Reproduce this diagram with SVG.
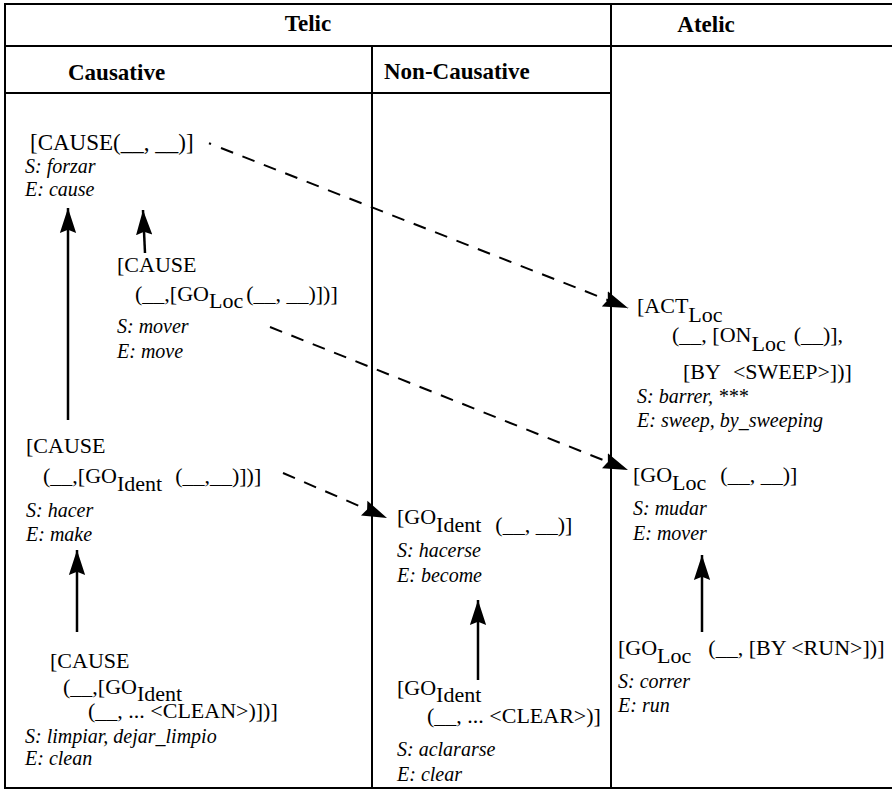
<svg xmlns="http://www.w3.org/2000/svg" width="892" height="790" viewBox="0 0 892 790">
<style>
text{font-family:'Liberation Serif','Times New Roman',Times,serif;fill:#000}
.r{font-size:22px}
.i{font-size:20px;font-style:italic}
.h{font-size:23px;font-weight:bold}
.grid{stroke:#000;stroke-width:2;fill:none}
.solid{stroke:#000;stroke-width:2.5;fill:none;marker-end:url(#ah)}
.dash{stroke:#000;stroke-width:2;fill:none;stroke-dasharray:13 10;marker-end:url(#ah)}
</style>
<defs>
<marker id="ah" markerUnits="userSpaceOnUse" markerWidth="26" markerHeight="18" viewBox="0 0 24 16" refX="23" refY="8" orient="auto">
<path d="M0,0.5 L23,8 L0,15.5 L3,8 Z" fill="#000" stroke="none"/>
</marker>
</defs>
<rect width="892" height="790" fill="#fff"/>
<g id="table" class="grid">
<line x1="5" y1="4" x2="892" y2="4"/>
<line x1="5" y1="3" x2="5" y2="789"/>
<line x1="5" y1="46" x2="892" y2="46"/>
<line x1="5" y1="93" x2="611" y2="93"/>
<line x1="611" y1="3" x2="611" y2="789"/>
<line x1="372" y1="46" x2="372" y2="789"/>
<line x1="5" y1="788" x2="892" y2="788"/>
</g>
<g id="headers">
<text class="h" x="308" y="31" text-anchor="middle">Telic</text>
<text class="h" x="706" y="32" text-anchor="middle">Atelic</text>
<text class="h" x="68" y="80">Causative</text>
<text class="h" x="384" y="79">Non-Causative</text>
</g>
<g id="n-cause">
<text class="r" x="30" y="150" style="font-size:23px">[CAUSE(__, __)]</text>
<text class="i" x="25" y="173">S: forzar</text>
<text class="i" x="25" y="196">E: cause</text>
</g>
<g id="n-move">
<text class="r" x="117" y="272">[CAUSE</text>
<text class="r" x="135" y="301">(__,[GO<tspan dy="7">Loc</tspan><tspan dy="-7" dx="3">(__, __)])]</tspan></text>
<text class="i" x="117" y="333">S: mover</text>
<text class="i" x="117" y="358">E: move</text>
</g>
<g id="n-make">
<text class="r" x="26" y="453">[CAUSE</text>
<text class="r" x="43" y="483">(__,[GO<tspan dy="8">Ident</tspan><tspan dy="-8" dx="13">(__,__)])]</tspan></text>
<text class="i" x="26" y="517">S: hacer</text>
<text class="i" x="26" y="541">E: make</text>
</g>
<g id="n-clean">
<text class="r" x="50" y="668">[CAUSE</text>
<text class="r" x="63" y="694">(__,[GO<tspan dy="7">Ident</tspan></text>
<text class="r" x="88" y="718">(__, ... &lt;CLEAN&gt;)])]</text>
<text class="i" x="25" y="743">S: limpiar, dejar_limpio</text>
<text class="i" x="25" y="765">E: clean</text>
</g>
<g id="n-become">
<text class="r" x="397" y="524">[GO<tspan dy="8">Ident</tspan><tspan dx="14">(__, __)]</tspan></text>
<text class="i" x="397" y="557">S: hacerse</text>
<text class="i" x="397" y="582">E: become</text>
</g>
<g id="n-clear">
<text class="r" x="397" y="695">[GO<tspan dy="7">Ident</tspan></text>
<text class="r" x="427" y="723">(__, ... &lt;CLEAR&gt;)]</text>
<text class="i" x="397" y="756">S: aclararse</text>
<text class="i" x="397" y="781">E: clear</text>
</g>
<g id="n-sweep">
<text class="r" x="637" y="313">[ACT<tspan dy="9">Loc</tspan></text>
<text class="r" x="672" y="342">(__, [ON<tspan dy="9">Loc</tspan><tspan dy="-9" dx="8">(__)],</tspan></text>
<text class="r" x="683" y="379">[BY<tspan dx="12">&lt;SWEEP&gt;])]</tspan></text>
<text class="i" x="637" y="403">S: barrer, ***</text>
<text class="i" x="637" y="427">E: sweep, by_sweeping</text>
</g>
<g id="n-mover">
<text class="r" x="633" y="482">[GO<tspan dy="8">Loc</tspan><tspan dy="-8" dx="14">(__, __)]</tspan></text>
<text class="i" x="633" y="515">S: mudar</text>
<text class="i" x="633" y="540">E: mover</text>
</g>
<g id="n-run">
<text class="r" x="618" y="655">[GO<tspan dy="8">Loc</tspan><tspan dy="-8" dx="17">(__, [BY &lt;RUN&gt;])]</tspan></text>
<text class="i" x="618" y="688">S: correr</text>
<text class="i" x="618" y="712">E: run</text>
</g>
<g id="connectors">
<line class="solid" x1="68" y1="420" x2="68" y2="208"/>
<line class="solid" x1="145" y1="253" x2="143" y2="210"/>
<line class="solid" x1="77" y1="632" x2="77" y2="550"/>
<line class="solid" x1="478" y1="680" x2="478" y2="600"/>
<line class="solid" x1="702" y1="632" x2="702" y2="555"/>
<line x1="209" y1="143.2" x2="211" y2="144" stroke="#000" stroke-width="2"/>
<line class="dash" x1="221" y1="148" x2="628" y2="308"/>
<line class="dash" x1="270" y1="327" x2="628" y2="470"/>
<line class="dash" x1="283" y1="473" x2="387" y2="518"/>
</g>
</svg>
